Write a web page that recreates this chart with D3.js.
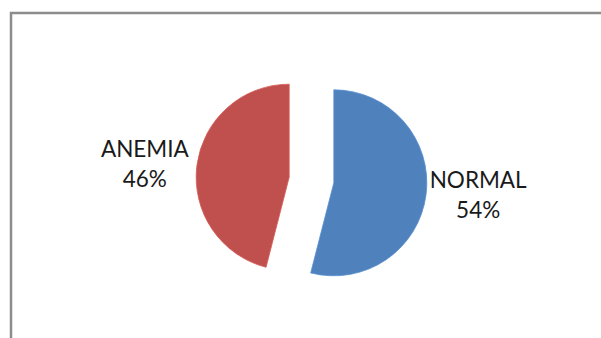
<!DOCTYPE html>
<html>
<head>
<meta charset="utf-8">
<script src="https://cdn.jsdelivr.net/npm/d3@7"></script>
<style>
  html, body { margin: 0; padding: 0; background: #fff; }
  svg { display: block; }
</style>
</head>
<body>
<script>
const categories = ["NORMAL", "ANEMIA"];
const values = [54, 46];
const percentLabels = ["54%", "46%"];
const colors = ["#4F81BD", "#C0504D"];

const W = 601, H = 338;
const svg = d3.select("body").append("svg").attr("width", W).attr("height", H);

// chart frame
svg.append("rect")
  .attr("x", 11).attr("y", 13)
  .attr("width", W + 20).attr("height", H + 20)
  .attr("fill", "#fff")
  .attr("stroke", "#8c8c8c").attr("stroke-width", 2.5);

const cx = 311.5, cy = 180, r = 93, explode = 22.5;
const pie = d3.pie().sort(null).value(d => d)(values);
const arc = d3.arc().innerRadius(0).outerRadius(r);

const g = svg.append("g").attr("transform", `translate(${cx},${cy})`);

g.selectAll("path").data(pie).join("path")
  .attr("d", arc)
  .attr("fill", (d, i) => colors[i])
  .attr("stroke", (d, i) => d3.color(colors[i]).brighter(0.3))
  .attr("stroke-width", 0.8)
  .attr("transform", d => {
    const m = (d.startAngle + d.endAngle) / 2;
    return `translate(${Math.sin(m) * explode},${-Math.cos(m) * explode})`;
  });

const rx = 168, ry = 122;
const labels = g.selectAll("text.lbl").data(pie).join("text")
  .attr("class", "lbl")
  .attr("text-anchor", "middle")
  .attr("font-family", "Lato, 'Liberation Sans', Arial, sans-serif")
  .attr("font-size", 22.5)
  .attr("fill", "#1a1a1a")
  .attr("transform", d => {
    const m = (d.startAngle + d.endAngle) / 2;
    return `translate(${Math.sin(m) * rx},${-Math.cos(m) * ry})`;
  });
labels.append("tspan").attr("x", 0).attr("y", -7.5).text((d, i) => categories[i]);
labels.append("tspan").attr("x", 0).attr("y", 22.5).text((d, i) => percentLabels[i]);
</script>
</body>
</html>
